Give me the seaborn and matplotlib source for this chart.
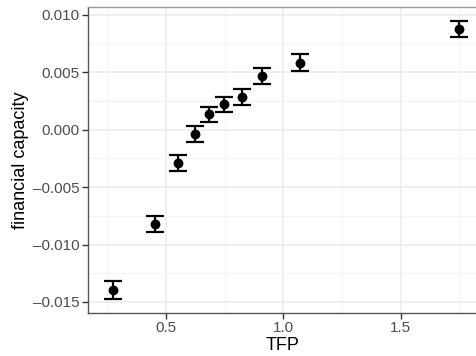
import matplotlib
matplotlib.use("Agg")
import matplotlib.pyplot as plt
import seaborn as sns
import pandas as pd
import numpy as np
from matplotlib.ticker import FuncFormatter, MultipleLocator

tfp = [0.273, 0.455, 0.5525, 0.6236, 0.6845, 0.747, 0.8225, 0.909, 1.0696, 1.747]
fin_cap = [-0.01395, -0.0082, -0.0029, -0.00037, 0.00133, 0.0022, 0.00285, 0.00464, 0.00584, 0.00875]
err = [0.00078, 0.0007, 0.00068, 0.00068, 0.00068, 0.00068, 0.00068, 0.0007, 0.0007, 0.00072]

df = pd.DataFrame({"TFP": tfp, "financial capacity": fin_cap, "err": err})

sns.set_theme(style="white")
plt.rcParams['font.family'] = ['Liberation Sans', 'DejaVu Sans']

fig = plt.figure(figsize=(4.77, 3.56), dpi=100)
ax = fig.add_axes([88/477, 43/356, 389/477, 306/356])

ax.errorbar(df["TFP"], df["financial capacity"], yerr=df["err"], fmt="none",
            ecolor="black", elinewidth=1.6, capsize=6.5, capthick=1.6, zorder=3)
sns.scatterplot(data=df, x="TFP", y="financial capacity", ax=ax, color="black",
                s=50, edgecolor="black", linewidth=0, zorder=4)

ax.set_xlim(0.168, 1.825)
ax.set_ylim(-0.01596, 0.01067)
ax.xaxis.set_major_locator(MultipleLocator(0.5))
ax.xaxis.set_minor_locator(MultipleLocator(0.25))
ax.yaxis.set_major_locator(MultipleLocator(0.005))
ax.yaxis.set_minor_locator(MultipleLocator(0.0025))
ax.xaxis.set_major_formatter(FuncFormatter(lambda v, p: f"{v:.1f}"))
ax.yaxis.set_major_formatter(FuncFormatter(lambda v, p: f"{v:.3f}".replace("-", "\u2013") if abs(v) > 1e-12 else "0.000"))

ax.grid(which="major", color="#EBEBEB", linewidth=1.1)
ax.grid(which="minor", color="#F2F2F2", linewidth=0.6)
ax.set_axisbelow(True)

for s in ["left", "bottom"]:
    ax.spines[s].set_color("#555555")
    ax.spines[s].set_linewidth(1.0)
ax.spines["top"].set_color("#999999")
ax.spines["top"].set_linewidth(1.0)
ax.spines["right"].set_visible(False)

ax.tick_params(axis="both", which="major", direction="out", length=4, width=1,
               color="#333333", labelcolor="#4D4D4D", labelsize=11, pad=2,
               bottom=True, left=True)
ax.tick_params(axis="both", which="minor", length=0)

ax.set_xlabel("TFP", fontsize=13, color="black", labelpad=1)
ax.set_ylabel("financial capacity", fontsize=13, color="black", labelpad=3)

fig.savefig("out.png", dpi=100)
